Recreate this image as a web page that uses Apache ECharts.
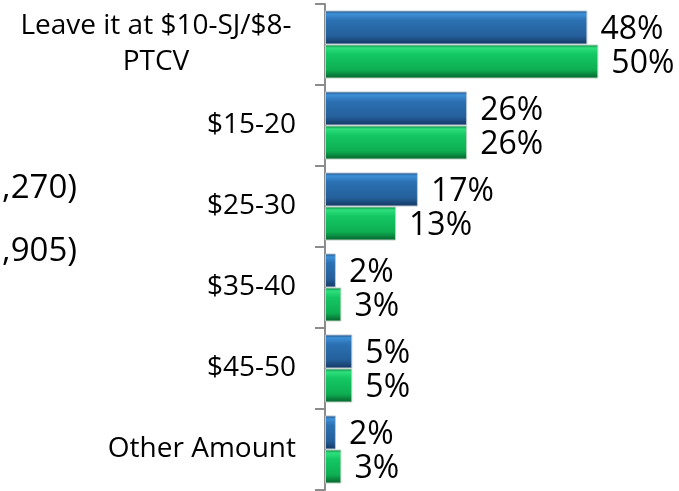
<!DOCTYPE html>
<html>
<head>
<meta charset="utf-8">
<script src="https://cdn.jsdelivr.net/npm/echarts@6/dist/echarts.min.js"></script>
<style>
html,body{margin:0;padding:0;background:#fff;}
#chart{width:679px;height:491px;}
</style>
</head>
<body>
<div id="chart"></div>
<script>
var categories = ['Leave it at $10-SJ/$8-\nPTCV', '$15-20', '$25-30', '$35-40', '$45-50', 'Other Amount'];
var seriesBlue = [48, 26, 17, 2, 5, 2];
var seriesGreen = [50, 26, 13, 3, 5, 3];
var legendFragments = [',270)', ',905)'];

var FONT = '"Open Sans", "Noto Sans", sans-serif';

function grad(stops) {
  return new echarts.graphic.LinearGradient(0, 0, 0, 1, stops);
}
var blueFill = grad([
  {offset: 0, color: '#1d4a78'},
  {offset: 0.1, color: '#3e90d8'},
  {offset: 0.28, color: '#2c71b3'},
  {offset: 0.75, color: '#245f9a'},
  {offset: 1, color: '#143660'}
]);
var greenFill = grad([
  {offset: 0, color: '#0a7a3e'},
  {offset: 0.1, color: '#2ee07c'},
  {offset: 0.28, color: '#14c863'},
  {offset: 0.75, color: '#0eae52'},
  {offset: 1, color: '#06602c'}
]);

var chart = echarts.init(document.getElementById('chart'), null, {renderer: 'canvas'});
chart.setOption({
  animation: false,
  backgroundColor: '#ffffff',
  grid: {left: 325, top: 4, height: 486, width: 328, containLabel: false},
  xAxis: {type: 'value', min: 0, max: 60, show: false},
  yAxis: {
    type: 'category',
    data: categories,
    inverse: true,
    axisLine: {show: true, lineStyle: {color: '#8c8c8c', width: 2}},
    axisTick: {show: true, alignWithLabel: false, length: 10, lineStyle: {color: '#8c8c8c', width: 2}},
    axisLabel: {
      margin: 29,
      color: '#000',
      fontFamily: FONT,
      fontSize: 28,
      lineHeight: 36,
      formatter: function (v) {
        if (v.indexOf('\n') >= 0) {
          return v.split('\n').map(function (l) { return '{c|' + l + '}'; }).join('\n');
        }
        return v;
      },
      rich: {
        c: {width: 280, align: 'center', fontFamily: FONT, fontSize: 28, lineHeight: 36, color: '#000'}
      }
    }
  },
  series: [
    {
      type: 'bar',
      name: 'A',
      data: seriesBlue,
      barGap: '0%',
      barCategoryGap: '16%',
      itemStyle: {color: blueFill, borderColor: '#b9c6d4', borderWidth: 1},
      label: {show: true, position: 'right', distance: 13, formatter: '{c}%', color: '#000', fontFamily: FONT, fontSize: 32, offset: [0, 2]}
    },
    {
      type: 'bar',
      name: 'B',
      data: seriesGreen,
      barGap: '0%',
      barCategoryGap: '16%',
      itemStyle: {color: greenFill, borderColor: '#b9d4c2', borderWidth: 1},
      label: {show: true, position: 'right', distance: 13, formatter: '{c}%', color: '#000', fontFamily: FONT, fontSize: 32, offset: [0, 2]}
    }
  ],
  graphic: [
    {type: 'text', right: 679 - 77, top: 172, style: {text: legendFragments[0], fill: '#000', font: '33px ' + FONT, textAlign: 'right'}},
    {type: 'text', right: 679 - 77, top: 235, style: {text: legendFragments[1], fill: '#000', font: '33px ' + FONT, textAlign: 'right'}}
  ]
});
</script>
</body>
</html>
